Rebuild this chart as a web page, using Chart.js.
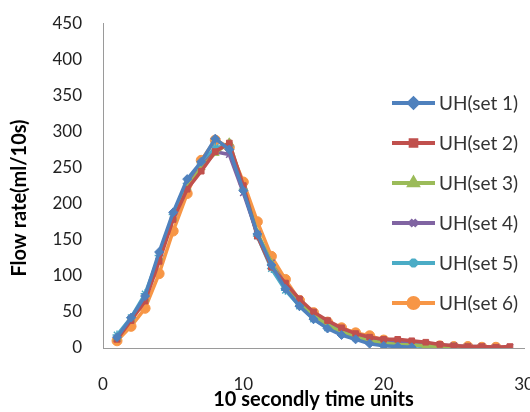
<!DOCTYPE html>
<html lang="en">
<head>
    <meta charset="UTF-8">
    <title>UH sets</title>
    <script src="https://cdn.jsdelivr.net/npm/chart.js"></script>
    <style>
        body { margin: 0; padding: 0; background: #ffffff; }
        .chart-box { width: 530px; height: 412px; position: relative; }
    </style>
</head>
<body>
    <div class="chart-box">
        <canvas id="uhChart" width="530" height="412"></canvas>
    </div>

    <script>
        // time units (10 s each)
        const timeSteps = [1, 2, 3, 4, 5, 6, 7, 8, 9, 10, 11, 12, 13, 14, 15, 16, 17, 18, 19, 20, 21, 22, 23, 24, 25, 26, 27, 28, 29];

        // flow rate (ml/10s)
        const uhSet1 = [15, 42, 72, 133, 188, 234, 258, 290, 275, 218, 158, 115, 82, 58, 40, 27, 18, 12, 6, 3, 2, 1];
        const uhSet2 = [12, 38, 65, 120, 178, 220, 245, 272, 284, 225, 155, 112, 90, 68, 50, 38, 28, 20, 15, 12, 12, 10, 8, 5, 3, 2, 2, 1, 2];
        const uhSet3 = [14, 40, 68, 125, 180, 222, 250, 270, 285, 222, 160, 118, 85, 62, 45, 32, 22, 16, 10, 7, 5, 4, 3, 2, 2, 1];
        const uhSet4 = [13, 40, 70, 128, 182, 225, 252, 272, 268, 215, 158, 118, 88, 66, 48, 36, 26, 18, 13, 10, 8, 7, 6, 4, 3, 2, 2, 1, 1];
        const uhSet5 = [18, 42, 75, 128, 185, 228, 255, 278, 280, 220, 155, 110, 80, 58, 40, 28, 20, 14, 9, 6, 4, 3, 2, 2, 1];
        const uhSet6 = [10, 30, 55, 103, 162, 214, 260, 288, 278, 230, 175, 127, 95, 66, 49, 36, 28, 21, 17, 11, 8, 6, 4, 3, 2, 2, 1, 1];

        const seriesNames = ['UH(set 1)', 'UH(set 2)', 'UH(set 3)', 'UH(set 4)', 'UH(set 5)', 'UH(set 6)'];
        const seriesValues = [uhSet1, uhSet2, uhSet3, uhSet4, uhSet5, uhSet6];
        const colors = ['#4F81BD', '#C0504D', '#9BBB59', '#8064A2', '#4BACC6', '#F79646'];
        const markers = ['rectRot', 'rect', 'triangle', 'crossRot', 'star', 'circle'];
        const markerSizes = [4.5, 4, 4.5, 4.5, 4.5, 5];

        const yTicks = [0, 50, 100, 150, 200, 250, 300, 350, 400, 450];
        const xTicks = [0, 10, 20, 30];

        const FONT = 'Lato, "Open Sans", sans-serif';

        const datasets = seriesValues.map((vals, i) => ({
            label: seriesNames[i],
            data: vals.map((v, j) => ({ x: timeSteps[j], y: v })),
            borderColor: colors[i],
            backgroundColor: colors[i],
            pointBorderColor: colors[i],
            borderWidth: 3.5,
            pointStyle: markers[i],
            pointRadius: markerSizes[i],
            pointBorderWidth: (markers[i] === 'crossRot' || markers[i] === 'star') ? 1.5 : 1,
            tension: 0,
            fill: false
        }));

        // legend drawn over the plot area and rotated y title, like the original
        const overlayLegend = {
            id: 'overlayLegend',
            afterDraw(chart) {
                const ctx = chart.ctx;
                ctx.save();
                ctx.font = '19px ' + FONT;
                ctx.textBaseline = 'middle';
                chart.data.datasets.forEach((ds, i) => {
                    const y = 103 + i * 40;
                    const x0 = 392, x1 = 435;
                    ctx.strokeStyle = ds.borderColor;
                    ctx.lineWidth = 4;
                    ctx.beginPath();
                    ctx.moveTo(x0, y);
                    ctx.lineTo(x1, y);
                    ctx.stroke();
                    ctx.fillStyle = ds.borderColor;
                    Chart.helpers.drawPoint(ctx, {
                        pointStyle: ds.pointStyle,
                        radius: ds.pointRadius,
                        borderWidth: ds.pointBorderWidth,
                        rotation: 0
                    }, (x0 + x1) / 2, y);
                    ctx.fillStyle = '#333333';
                    ctx.fillText(ds.label, 439, y + 1);
                });

                // y axis title
                ctx.translate(20, 198);
                ctx.rotate(-Math.PI / 2);
                ctx.textAlign = 'center';
                ctx.fillStyle = '#000';
                ctx.font = 'bold 20px ' + FONT;
                ctx.fillText('Flow rate(ml/10s)', 0, 0);
                ctx.restore();
            }
        };

        new Chart(document.getElementById('uhChart'), {
            type: 'line',
            data: { datasets: datasets },
            options: {
                responsive: false,
                animation: false,
                layout: { padding: { left: 0, right: 5, top: 2, bottom: 0 } },
                plugins: {
                    legend: { display: false },
                    tooltip: { enabled: false }
                },
                scales: {
                    x: {
                        type: 'linear',
                        min: 0,
                        max: 30,
                        grid: { display: false },
                        border: { display: true, color: '#9a9a9a', width: 1 },
                        afterBuildTicks: (scale) => { scale.ticks = xTicks.map(v => ({ value: v })); },
                        ticks: {
                            color: '#222',
                            font: { family: FONT, size: 17 },
                            padding: 18,
                            maxRotation: 0
                        },
                        title: {
                            display: true,
                            text: '10 secondly time units',
                            color: '#000',
                            font: { family: FONT, size: 20, weight: 'bold' },
                            padding: { top: 0, bottom: 0 }
                        },
                        afterFit: (scale) => {
                            scale.height = 64;
                            scale.paddingRight = 0;
                            scale.paddingLeft = 0;
                        }
                    },
                    y: {
                        min: 0,
                        max: 450,
                        grid: { display: false },
                        border: { display: true, color: '#9a9a9a', width: 1 },
                        afterBuildTicks: (scale) => { scale.ticks = yTicks.map(v => ({ value: v })); },
                        ticks: {
                            color: '#222',
                            font: { family: FONT, size: 17 },
                            padding: 13
                        },
                        title: { display: false },
                        afterFit: (scale) => { scale.width = 103; }
                    }
                }
            },
            plugins: [overlayLegend]
        });
    </script>
</body>
</html>
